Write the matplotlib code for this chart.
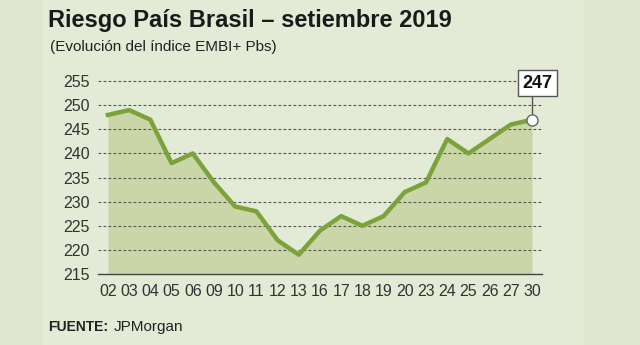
import matplotlib
matplotlib.use("Agg")
import matplotlib.pyplot as plt
import matplotlib.patches as mpatches
from matplotlib.text import Annotation

dias = ["02", "03", "04", "05", "06", "09", "10", "11", "12", "13", "16",
        "17", "18", "19", "20", "23", "24", "25", "26", "27", "30"]
embi = [248, 249, 247, 238, 240, 234, 229, 228, 222, 219, 224,
        227, 225, 227, 232, 234, 243, 240, 243, 246, 247]
yticks = [215, 220, 225, 230, 235, 240, 245, 250, 255]

FONT = "Liberation Sans"

fig = plt.figure(figsize=(6.4, 3.45), dpi=100)
fig.patch.set_facecolor("#dfe7cf")
bg = mpatches.Rectangle((43/640, 0), (584-43)/640, 1, transform=fig.transFigure,
                        facecolor="#e3ead6", edgecolor="none", zorder=-5)
fig.patches.append(bg)

ax = fig.add_axes([98/640, 1-274/345, (542-98)/640, (274-71.5)/345])
ax.set_zorder(2)
ax.set_facecolor("none")
x = list(range(len(dias)))
ax.fill_between(x, embi, 215, color="#cad6a8", zorder=1, linewidth=0)
ax.plot(x, embi, color="#7ca33a", linewidth=3.2, solid_joinstyle="round", zorder=3)
# connector from last point up to the label box
ax.plot([x[-1], x[-1]], [embi[-1], 252.3], color="#555555", linewidth=1, zorder=4, clip_on=False)
ax.plot(x[-1], embi[-1], marker="o", markersize=8, markerfacecolor="white",
        markeredgecolor="#666666", markeredgewidth=1, zorder=5, clip_on=False)
for v in yticks[1:]:
    ax.axhline(v, color="#555555", linestyle=(0, (2.5, 2)), linewidth=0.8, zorder=2)
ax.set_xlim(-0.47, 20.47)
ax.set_ylim(215, 257)
ax.set_yticks(yticks)
ax.set_xticks(x)
ax.set_xticklabels(dias)
for s in ["top", "right", "left"]:
    ax.spines[s].set_visible(False)
ax.spines["bottom"].set_color("#444444")
ax.spines["bottom"].set_linewidth(1)
ax.tick_params(length=0, labelcolor="#333333")
ax.tick_params(axis="x", pad=7)
ax.tick_params(axis="y", pad=6)
for lab in ax.get_xticklabels() + ax.get_yticklabels():
    lab.set_family(FONT)
    lab.set_fontsize(11.5)

ax.text(x[-1] + 0.27, 254.6, str(embi[-1]), ha="center", va="center", fontsize=13,
        fontweight="bold", family=FONT, color="#111111", zorder=6, clip_on=False,
        bbox=dict(boxstyle="square,pad=0.25", facecolor="white", edgecolor="#555555", linewidth=1))

fig.text(48/640, 1-20/345, "Riesgo País Brasil – setiembre 2019", fontsize=17, fontweight="bold",
         family=FONT, color="#1a1a1a", va="center", ha="left")
fig.text(50/640, 1-47/345, "(Evolución del índice EMBI+ Pbs)", fontsize=11,
         family=FONT, color="#222222", va="center", ha="left")
t1 = fig.text(48/640, 1-327/345, "FUENTE:", fontsize=10, fontweight="bold",
              family=FONT, color="#222222", va="center", ha="left")
fig.add_artist(Annotation("JPMorgan", xy=(1, 0.5), xycoords=t1,
                          xytext=(4, 0), textcoords="offset points",
                          va="center", ha="left", fontsize=11,
                          family=FONT, color="#222222"))

fig.savefig("out.png", dpi=100, facecolor=fig.get_facecolor())
